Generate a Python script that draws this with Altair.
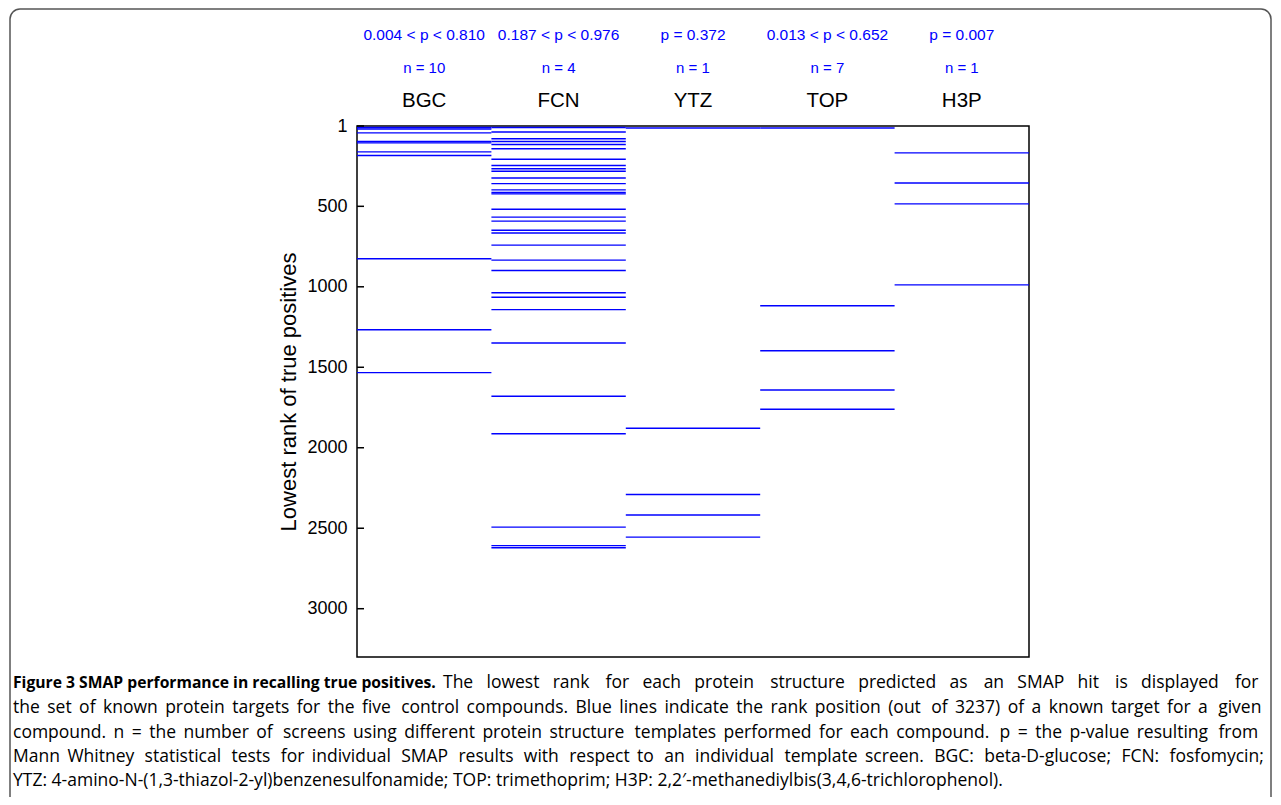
import altair as alt
import pandas as pd

compounds = ["BGC", "FCN", "YTZ", "TOP", "H3P"]
n_labels = ["n = 10", "n = 4", "n = 1", "n = 7", "n = 1"]
p_labels = ["0.004 < p < 0.810", "0.187 < p < 0.976", "p = 0.372",
            "0.013 < p < 0.652", "p = 0.007"]

bgc_ranks = [10, 20, 44, 97, 106, 162, 184, 826, 1267, 1533]
fcn_ranks = [10, 38, 80, 97, 116, 142, 208, 246, 267, 282, 324, 359, 398, 414,
             423, 518, 567, 592, 649, 666, 741, 834, 899, 1037, 1065, 1142,
             1349, 1680, 1913, 2493, 2608, 2621]
ytz_ranks = [13, 1879, 2290, 2418, 2555]
top_ranks = [13, 1118, 1397, 1641, 1761]
h3p_ranks = [168, 355, 485, 988]

tick_values = [1, 500, 1000, 1500, 2000, 2500, 3000]

caption_bold = "Figure 3 SMAP performance in recalling true positives."
caption_rest1 = "The lowest rank for each protein structure predicted as an SMAP hit is displayed for"
caption_lines = [
    "the set of known protein targets for the five control compounds. Blue lines indicate the rank position (out of 3237) of a known target for a given",
    "compound. n = the number of screens using different protein structure templates performed for each compound. p = the p-value resulting from",
    "Mann Whitney statistical tests for individual SMAP results with respect to an individual template screen. BGC: beta-D-glucose; FCN: fosfomycin;",
    "YTZ: 4-amino-N-(1,3-thiazol-2-yl)benzenesulfonamide; TOP: trimethoprim; H3P: 2,2\u2032-methanediylbis(3,4,6-trichlorophenol).",
]


def justify(text, extra_thin):
    """Spread thin spaces over the word gaps to mimic a justified line."""
    words = text.split(" ")
    gaps = len(words) - 1
    out = words[0]
    for i in range(gaps):
        k = ((i + 1) * extra_thin) // gaps - (i * extra_thin) // gaps
        out += " " + "\u2009" * k + words[i + 1]
    return out


def n_gaps(text):
    return len(text.split(" ")) - 1


rest1_text = justify(caption_rest1, 47)
caption_texts = [
    justify(caption_lines[0], n_gaps(caption_lines[0]) + 3),
    justify(caption_lines[1], n_gaps(caption_lines[1]) + 4),
    justify(caption_lines[2], 32),
    caption_lines[3],
]

all_ranks = [bgc_ranks, fcn_ranks, ytz_ranks, top_ranks, h3p_ranks]
rows = []
for i, rs in enumerate(all_ranks):
    for r in rs:
        rows.append({"compound": compounds[i], "x0": i, "x1": i + 1, "rank": r})
lines_df = pd.DataFrame(rows)

labels_df = pd.DataFrame({
    "xc": [i + 0.5 for i in range(len(compounds))],
    "name": compounds,
    "n": n_labels,
    "p": p_labels,
})
ticks_df = pd.DataFrame({"tick": tick_values})
one_df = pd.DataFrame({"a": [0]})

W, H = 672, 531
FONT = "Liberation Sans"
CAP_FONT = "Open Sans"

xscale = alt.Scale(domain=[0, 5], nice=False, zero=False)
yscale = alt.Scale(domain=[1, 3300], nice=False, zero=False, reverse=True)
yaxis = alt.Axis(values=tick_values, format="d", title="Lowest rank of true positives",
                 ticks=False, domain=False, grid=False, labelPadding=10,
                 labelFontSize=18, labelFont=FONT, labelColor="black",
                 titleFontSize=22, titleFont=FONT, titleFontWeight="normal",
                 titleColor="black", titlePadding=6)

rules = alt.Chart(lines_df).mark_rule(color="#0000ff", strokeWidth=1.4).encode(
    x=alt.X("x0:Q", scale=xscale, axis=None),
    x2="x1:Q",
    y=alt.Y("rank:Q", scale=yscale, axis=yaxis),
)

ticks = alt.Chart(ticks_df).mark_rule(color="black", strokeWidth=1.5).encode(
    x=alt.value(0), x2=alt.value(7),
    y=alt.Y("tick:Q", scale=yscale, axis=yaxis),
)

p_text = alt.Chart(labels_df).mark_text(font=FONT, fontSize=15.5, color="#0000ff",
                                        baseline="middle").encode(
    x=alt.X("xc:Q", scale=xscale, axis=None), y=alt.value(-91), text="p:N")
n_text = alt.Chart(labels_df).mark_text(font=FONT, fontSize=15, color="#0000ff",
                                        baseline="middle").encode(
    x=alt.X("xc:Q", scale=xscale, axis=None), y=alt.value(-58), text="n:N")
name_text = alt.Chart(labels_df).mark_text(font=FONT, fontSize=20.5, color="black",
                                           baseline="middle").encode(
    x=alt.X("xc:Q", scale=xscale, axis=None), y=alt.value(-25), text="name:N")

layers = []
cap_bold = alt.Chart(pd.DataFrame({"t": [caption_bold]})).mark_text(
    font=CAP_FONT, fontSize=15.7, fontWeight="bold", align="left",
    baseline="middle", color="black").encode(
    x=alt.value(-344), y=alt.value(557), text="t:N")
cap_r1 = alt.Chart(pd.DataFrame({"t": [rest1_text]})).mark_text(
    font=CAP_FONT, fontSize=17.5, align="left",
    baseline="middle", color="black").encode(
    x=alt.value(86), y=alt.value(557), text="t:N")
layers += [cap_bold, cap_r1]
cap_y = [582, 607, 631, 655]
for line, yy in zip(caption_texts, cap_y):
    layers.append(alt.Chart(pd.DataFrame({"t": [line]})).mark_text(
        font=CAP_FONT, fontSize=17.5, align="left",
        baseline="middle", color="black").encode(
        x=alt.value(-344), y=alt.value(yy), text="t:N"))

border = alt.Chart(one_df).mark_rect(fill=None, stroke="#555555", strokeWidth=1.5,
                                     cornerRadius=10).encode(
    x=alt.value(-347), x2=alt.value(914), y=alt.value(-117), y2=alt.value(700))

chart = alt.layer(
    border, rules, ticks, p_text, n_text, name_text, *layers
).properties(
    width=W, height=H,
    autosize=alt.AutoSizeParams(type="none"),
    padding={"left": 349, "top": 118, "right": 244, "bottom": 140},
    background="white",
).configure_view(stroke="black", strokeWidth=1.5)

chart.save("out.html", embed_options={"renderer": "svg", "actions": False})
